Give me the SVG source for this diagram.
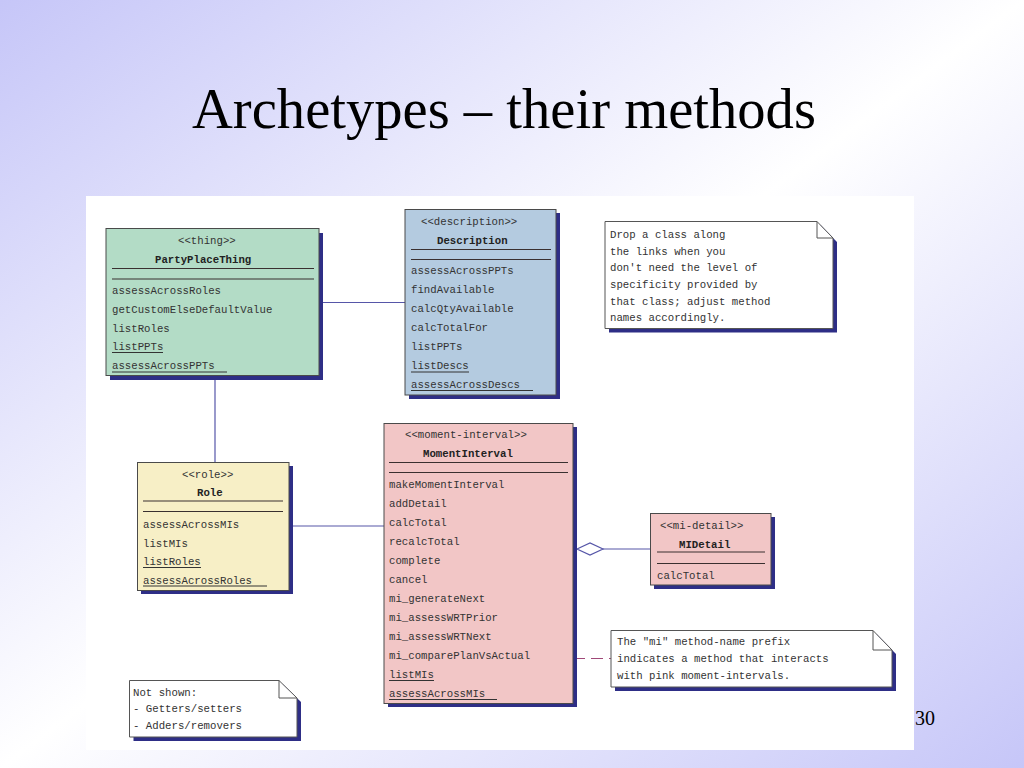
<svg xmlns="http://www.w3.org/2000/svg" width="1024" height="768" viewBox="0 0 1024 768">
<defs>
<linearGradient id="bg" x1="0" y1="0" x2="1" y2="1">
<stop offset="0" stop-color="#c6c6f8"/>
<stop offset="0.5" stop-color="#ffffff"/>
<stop offset="1" stop-color="#c6c6f8"/>
</linearGradient>
</defs>
<style>
.t{font-family:"Liberation Mono","DejaVu Sans Mono",monospace;font-size:10.7px;fill:#333333}
.b{font-weight:bold;fill:#222222}
.box{stroke:#4a4a4a;stroke-width:1}
.sh{fill:#2e2e86}
.sep{stroke:#3a3030;stroke-width:1.2}
.ul{stroke:#333333;stroke-width:1}
.green{fill:#b3dcc6}
.blue{fill:#b4cbe0}
.yellow{fill:#f7efc6}
.pink{fill:#f2c6c6}
.note{fill:#ffffff;stroke:#555555;stroke-width:1}
.fold{fill:none;stroke:#555555;stroke-width:1}
.conn{stroke:#5656a8;stroke-width:1.2;fill:none}
.dash{stroke:#a04878;stroke-width:1.2;stroke-dasharray:12 6;fill:none}
</style>
<rect x="0" y="0" width="1024" height="768" fill="url(#bg)"/>
<text x="192" y="128" font-family="Liberation Serif, Times New Roman, serif" font-size="56.6" fill="#000000">Archetypes – their methods</text>
<text x="915" y="725" font-family="Liberation Serif, Times New Roman, serif" font-size="20" fill="#000000">30</text>
<rect x="86" y="196" width="828" height="554" fill="#ffffff"/>

<g id="connectors">
<line class="conn" x1="320" y1="302.5" x2="405" y2="302.5"/>
<line class="conn" x1="215" y1="376" x2="215" y2="462"/>
<line class="conn" x1="289" y1="526" x2="384" y2="526"/>
<line class="conn" x1="603" y1="549" x2="650" y2="549"/>
<polygon points="577,549 590,543 603,549 590,555" fill="#ffffff" stroke="#5656a8" stroke-width="1.2"/>
<line class="dash" x1="573" y1="658.5" x2="611" y2="658.5"/>
</g>

<g id="PartyPlaceThing">
<rect class="sh" x="110" y="233" width="213" height="147"/>
<rect class="box green" x="106" y="228.5" width="213" height="147"/>
<text class="t" x="178" y="244">&lt;&lt;thing&gt;&gt;</text>
<text class="t b" x="155" y="263">PartyPlaceThing</text>
<line class="sep" x1="112" y1="268.5" x2="314" y2="268.5"/>
<line class="sep" x1="112" y1="279" x2="314" y2="279"/>
<text class="t" x="112" y="294">assessAcrossRoles</text>
<text class="t" x="112" y="313">getCustomElseDefaultValue</text>
<text class="t" x="112" y="331.5">listRoles</text>
<text class="t" x="112" y="350">listPPTs</text>
<line class="ul" x1="112" y1="352.5" x2="163" y2="352.5"/>
<text class="t" x="112" y="369">assessAcrossPPTs</text>
<line class="ul" x1="112" y1="372" x2="227" y2="372"/>
</g>

<g id="Description">
<rect class="sh" x="409" y="213" width="151" height="186"/>
<rect class="box blue" x="405" y="209.5" width="151" height="185.5"/>
<text class="t" x="421" y="225">&lt;&lt;description&gt;&gt;</text>
<text class="t b" x="437" y="244">Description</text>
<line class="sep" x1="411" y1="249.5" x2="551" y2="249.5"/>
<line class="sep" x1="411" y1="259.5" x2="551" y2="259.5"/>
<text class="t" x="411" y="274">assessAcrossPPTs</text>
<text class="t" x="411" y="293">findAvailable</text>
<text class="t" x="411" y="312">calcQtyAvailable</text>
<text class="t" x="411" y="331">calcTotalFor</text>
<text class="t" x="411" y="350">listPPTs</text>
<text class="t" x="411" y="369">listDescs</text>
<line class="ul" x1="411" y1="372" x2="469" y2="372"/>
<text class="t" x="411" y="388">assessAcrossDescs</text>
<line class="ul" x1="411" y1="390.5" x2="533" y2="390.5"/>
</g>

<g id="note-drop">
<path class="sh" d="M609 225.5 H821 L837 242 V332.5 H609 Z"/>
<path class="note" d="M605 221.5 H817 L833 238 V328.5 H605 Z"/>
<path class="fold" d="M817 221.5 V238 H833"/>
<text class="t" x="610" y="238">Drop a class along</text>
<text class="t" x="610" y="254.5">the links when you</text>
<text class="t" x="610" y="271">don't need the level of</text>
<text class="t" x="610" y="288">specificity provided by</text>
<text class="t" x="610" y="304.5">that class; adjust method</text>
<text class="t" x="610" y="321">names accordingly.</text>
</g>

<g id="Role">
<rect class="sh" x="141" y="466" width="152" height="128"/>
<rect class="box yellow" x="137.5" y="462.5" width="151.5" height="128"/>
<text class="t" x="182" y="477.5">&lt;&lt;role&gt;&gt;</text>
<text class="t b" x="197" y="496">Role</text>
<line class="sep" x1="143" y1="501" x2="283" y2="501"/>
<line class="sep" x1="143" y1="511.5" x2="283" y2="511.5"/>
<text class="t" x="143" y="527.5">assessAcrossMIs</text>
<text class="t" x="143" y="546.5">listMIs</text>
<text class="t" x="143" y="565">listRoles</text>
<line class="ul" x1="143" y1="567.5" x2="201" y2="567.5"/>
<text class="t" x="143" y="583.5">assessAcrossRoles</text>
<line class="ul" x1="143" y1="586" x2="267" y2="586"/>
</g>

<g id="MomentInterval">
<rect class="sh" x="388" y="427" width="189" height="280"/>
<rect class="box pink" x="384" y="423.5" width="189" height="280"/>
<text class="t" x="405" y="437.5">&lt;&lt;moment-interval&gt;&gt;</text>
<text class="t b" x="423" y="456.5">MomentInterval</text>
<line class="sep" x1="389" y1="462.5" x2="568" y2="462.5"/>
<line class="sep" x1="389" y1="472.5" x2="568" y2="472.5"/>
<text class="t" x="389" y="488">makeMomentInterval</text>
<text class="t" x="389" y="507">addDetail</text>
<text class="t" x="389" y="526">calcTotal</text>
<text class="t" x="389" y="545">recalcTotal</text>
<text class="t" x="389" y="564">complete</text>
<text class="t" x="389" y="583">cancel</text>
<text class="t" x="389" y="602">mi_generateNext</text>
<text class="t" x="389" y="621">mi_assessWRTPrior</text>
<text class="t" x="389" y="640">mi_assessWRTNext</text>
<text class="t" x="389" y="659">mi_comparePlanVsActual</text>
<text class="t" x="389" y="678">listMIs</text>
<line class="ul" x1="389" y1="680.5" x2="434" y2="680.5"/>
<text class="t" x="389" y="697">assessAcrossMIs</text>
<line class="ul" x1="389" y1="699.5" x2="497" y2="699.5"/>
</g>

<g id="MIDetail">
<rect class="sh" x="654" y="517" width="121" height="72"/>
<rect class="box pink" x="650.5" y="513.5" width="120.5" height="71.5"/>
<text class="t" x="660" y="529">&lt;&lt;mi-detail&gt;&gt;</text>
<text class="t b" x="679" y="547.5">MIDetail</text>
<line class="sep" x1="657" y1="552" x2="765" y2="552"/>
<line class="sep" x1="657" y1="563.5" x2="765" y2="563.5"/>
<text class="t" x="657" y="578.5">calcTotal</text>
</g>

<g id="note-mi">
<path class="sh" d="M615 634.5 H877 L896 654 V691 H615 Z"/>
<path class="note" d="M611 630.5 H873 L892 650 V687 H611 Z"/>
<path class="fold" d="M873 630.5 V650 H892"/>
<text class="t" x="617" y="645">The "mi" method-name prefix</text>
<text class="t" x="617" y="661.5">indicates a method that interacts</text>
<text class="t" x="617" y="678.5">with pink moment-intervals.</text>
</g>

<g id="note-notshown">
<path class="sh" d="M133.5 684.5 H283 L301 702 V741 H133.5 Z"/>
<path class="note" d="M129.5 680.5 H279 L297 698 V737 H129.5 Z"/>
<path class="fold" d="M279 680.5 V698 H297"/>
<text class="t" x="133" y="696">Not shown:</text>
<text class="t" x="133" y="712">- Getters/setters</text>
<text class="t" x="133" y="728.5">- Adders/removers</text>
</g>
</svg>
